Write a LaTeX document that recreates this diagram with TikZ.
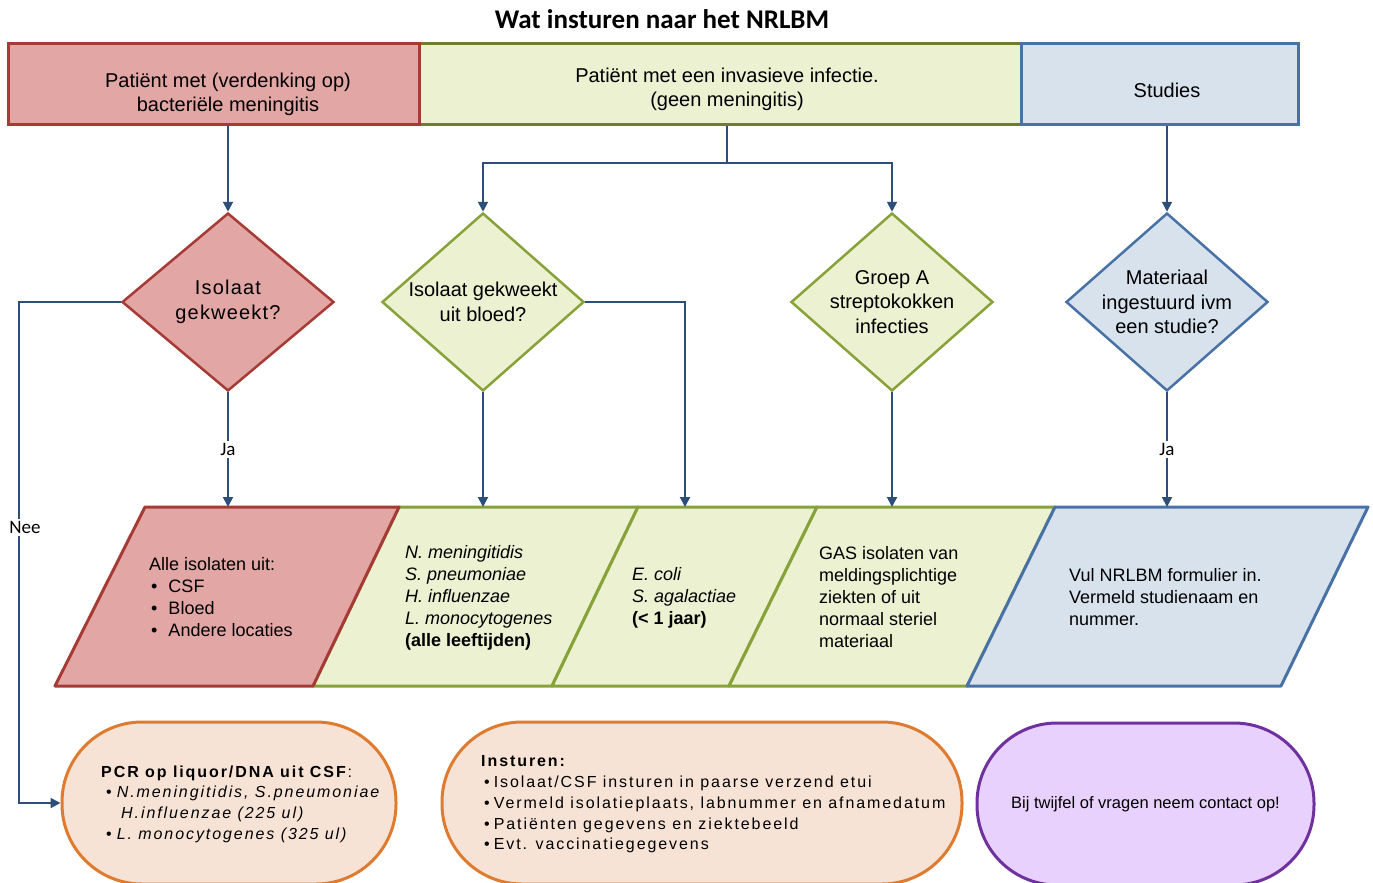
\documentclass[tikz,border=0pt]{standalone}
\usepackage{fontspec}
\setmainfont{Liberation Sans}
\newfontfamily\titlefont{Carlito}
\newfontfamily\spaced[LetterSpace=12]{Liberation Sans}
\newfontfamily\slightly[LetterSpace=6]{Liberation Sans}
\usetikzlibrary{shapes.geometric,arrows.meta,calc}

\definecolor{redfill}{HTML}{E2A6A4}
\definecolor{redline}{HTML}{A63A34}
\definecolor{greenfill}{HTML}{EBF1D1}
\definecolor{greenline}{HTML}{88A23A}
\definecolor{oliveline}{HTML}{6F7E2C}
\definecolor{bluefill}{HTML}{D8E2ED}
\definecolor{blueline}{HTML}{4872A6}
\definecolor{arrowblue}{HTML}{2D4E78}
\definecolor{orangefill}{HTML}{F7E3D5}
\definecolor{orangeline}{HTML}{DE7B2E}
\definecolor{purplefill}{HTML}{E8D1FC}
\definecolor{purpleline}{HTML}{7031A0}

\tikzset{
  topbox/.style={draw, line width=3pt, minimum height=80pt, inner sep=0pt},
  dia/.style={diamond, draw, line width=2.5pt, minimum width=202pt, minimum height=178pt,
    inner sep=-16pt, align=center, font=\fontsize{20}{24.5}\selectfont},
  par/.style={line width=3pt, line join=round},
  partext/.style={anchor=west, align=left, inner sep=0pt, font=\fontsize{18}{22}\selectfont},
  pill/.style={draw, line width=3pt, minimum height=162pt, rounded corners=80pt, inner sep=0pt},
  arr/.style={draw=arrowblue, line width=2pt, -{Triangle[width=10pt,length=10pt]}},
  line/.style={draw=arrowblue, line width=2pt},
  lbl/.style={fill=white, inner sep=2pt, font=\titlefont\fontsize{19}{21}\selectfont}
}

\begin{document}
\begin{tikzpicture}[x=1pt, y=-1pt]
	\useasboundingbox (0,0) rectangle (1373,883);

	% title
	\node[font=\titlefont\bfseries\fontsize{27}{30}\selectfont] (title) at (662,19) {Wat insturen naar het NRLBM};

	% top row
	\node[topbox, draw=oliveline, fill=greenfill, minimum width=602pt] (greenbox) at (720,84) {};
	\node[topbox, draw=redline, fill=redfill, minimum width=411pt] (redbox) at (213.5,84) {};
	\node[topbox, draw=blueline, fill=bluefill, minimum width=277pt] (bluebox) at (1159.5,84) {};
	\node[align=center, font=\fontsize{20}{24}\selectfont] (redtxt) at (228,94) {Patiënt met (verdenking op)\\bacteriële meningitis};
	\node[align=center, font=\fontsize{20}{24}\selectfont] (greentxt) at (727,89) {Patiënt met een invasieve infectie.\\(geen meningitis)};
	\node[font=\fontsize{20}{24}\selectfont] (bluetxt) at (1167,90) {Studies};

	% decisions
	\node[dia, draw=redline, fill=redfill, minimum width=212pt, font=\slightly\fontsize{20}{24.5}\selectfont] (isol) at (228,302) {Isolaat\\gekweekt?};
	\node[dia, draw=greenline, fill=greenfill] (blood) at (483,302) {Isolaat gekweekt\\uit bloed?};
	\node[dia, draw=greenline, fill=greenfill] (gas) at (892,302) {Groep A\\streptokokken\\infecties};
	\node[dia, draw=blueline, fill=bluefill] (study) at (1167,302) {Materiaal\\ingestuurd ivm\\een studie?};

	% what to send
	\draw[par, draw=greenline, fill=greenfill] (399,507) -- (638,507) -- (552,686) -- (313,686) -- cycle;
	\draw[par, draw=greenline, fill=greenfill] (638,507) -- (817,507) -- (729,686) -- (552,686) -- cycle;
	\draw[par, draw=greenline, fill=greenfill] (817,507) -- (1055,507) -- (967,686) -- (729,686) -- cycle;
	\draw[par, draw=redline, fill=redfill] (145,507) -- (399,507) -- (313,686) -- (55,686) -- cycle;
	\draw[par, draw=blueline, fill=bluefill] (1055,507) -- (1368,507) -- (1281,686) -- (967,686) -- cycle;
	\coordinate (alltop) at (228,507);
	\coordinate (agestop) at (483,507);
	\coordinate (babytop) at (685,507);
	\coordinate (gastop) at (892,507);
	\coordinate (studytop) at (1167,507);

	\node[partext] (alltxt) at (149,597) {Alle isolaten uit:\\
		\hspace*{2pt}\textbullet\hspace{11pt}CSF\\
		\hspace*{2pt}\textbullet\hspace{11pt}Bloed\\
		\hspace*{2pt}\textbullet\hspace{11pt}Andere locaties};
	\node[partext] (agestxt) at (405,598) {\textit{N. meningitidis}\\\textit{S. pneumoniae}\\\textit{H. influenzae}\\\textit{L. monocytogenes}\\\textbf{(alle leeftijden)}};
	\node[partext] (babytxt) at (632,598) {\textit{E. coli}\\\textit{S. agalactiae}\\\textbf{(< 1 jaar)}};
	\node[partext] (gastxt) at (819,597) {GAS isolaten van\\meldingsplichtige\\ziekten of uit\\normaal steriel\\materiaal};
	\node[partext] (studytxt) at (1069,597) {Vul NRLBM formulier in.\\Vermeld studienaam en\\nummer.};

	% bottom row
	\node[pill, draw=orangeline, fill=orangefill, minimum width=334pt] (pcr) at (229,803) {};
	\node[pill, draw=orangeline, fill=orangefill, minimum width=520pt] (send) at (702,803) {};
	\node[pill, draw=purpleline, fill=purplefill, minimum width=337pt, font=\fontsize{16.5}{20}\selectfont] (contact) at (1145.5,804) {Bij twijfel of vragen neem contact op!};
	\node[anchor=west, align=left, inner sep=0pt, font=\spaced\fontsize{16}{20.6}\selectfont] (pcrtxt) at (101,804) {\textbf{PCR op liquor/DNA uit CSF}:\\
		\hspace*{5pt}\textbullet\hspace{5pt}\textit{N.meningitidis, S.pneumoniae}\\
		\hspace*{20pt}\textit{H.influenzae (225 ul)}\\
		\hspace*{5pt}\textbullet\hspace{5pt}\textit{L. monocytogenes (325 ul)}};
	\node[anchor=west, align=left, inner sep=0pt, font=\spaced\fontsize{16}{20.7}\selectfont] (sendtxt) at (481,804.5) {\textbf{Insturen:}\\
		\hspace*{3pt}\textbullet\hspace{4pt}Isolaat/CSF insturen in paarse verzend etui\\
		\hspace*{3pt}\textbullet\hspace{4pt}Vermeld isolatieplaats, labnummer en afnamedatum\\
		\hspace*{3pt}\textbullet\hspace{4pt}Patiënten gegevens en ziektebeeld\\
		\hspace*{3pt}\textbullet\hspace{4pt}Evt. vaccinatiegegevens};

	% connectors
	\coordinate (split) at (727,163);
	\coordinate (neecorner) at (19,302);
	\draw[arr] (redbox.south -| isol.north) -- (isol.north);
	\draw[line] (greenbox.south -| split) -- (split);
	\draw[arr] (split) -| (blood.north);
	\draw[arr] (split) -| (gas.north);
	\draw[arr] (bluebox.south -| study.north) -- (study.north);
	\draw[arr] (isol.south) -- node[lbl] {Ja} (alltop);
	\draw[arr] (isol.west) -- (neecorner) |- node[lbl, pos=0.225, xshift=6pt] {Nee} (pcr.west);
	\draw[arr] (blood.south) -- (agestop);
	\draw[arr] (blood.east) -| (babytop);
	\draw[arr] (gas.south) -- (gastop);
	\draw[arr] (study.south) -- node[lbl] {Ja} (studytop);
\end{tikzpicture}
\end{document}
